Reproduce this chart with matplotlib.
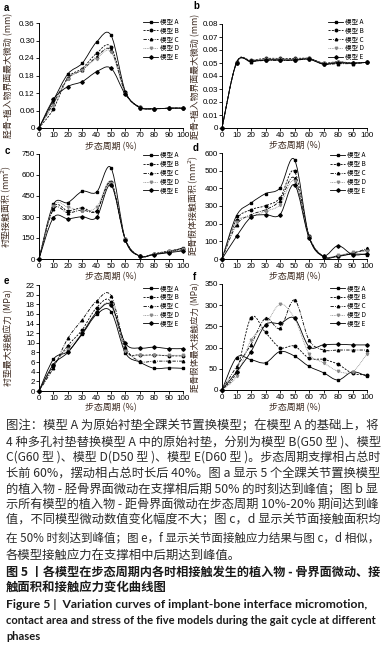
import matplotlib
matplotlib.use("Agg")
import matplotlib.pyplot as plt
from matplotlib.path import Path
from matplotlib.patches import PathPatch
from matplotlib.lines import Line2D

plt.rcParams['font.family'] = ['Noto Sans CJK SC', 'DejaVu Sans']

# Output size in pixels
W, H = 383, 648
DPI = 100

# Data
gait = [0, 10, 20, 30, 40, 50, 60, 70, 80, 90, 100]
models = ['模型 A', '模型 B', '模型 C', '模型 D', '模型 E']

# a: implant-tibia micromotion (mm)
a_A = [0, 0.095, 0.185, 0.222, 0.295, 0.318, 0.125, 0.072, 0.066, 0.068, 0.068]
a_B = [0, 0.065, 0.172, 0.204, 0.256, 0.278, 0.122, 0.071, 0.066, 0.068, 0.068]
a_C = [0, 0.085, 0.170, 0.199, 0.244, 0.267, 0.120, 0.070, 0.066, 0.068, 0.068]
a_D = [0, 0.080, 0.168, 0.200, 0.238, 0.261, 0.118, 0.070, 0.066, 0.068, 0.068]
a_E = [0, 0.098, 0.142, 0.159, 0.193, 0.205, 0.115, 0.070, 0.066, 0.068, 0.068]

# b: implant-talus micromotion (mm)
b_A = [0, 0.0500, 0.0515, 0.0525, 0.0525, 0.0525, 0.0535, 0.0495, 0.0505, 0.0500, 0.0505]
b_B = [0, 0.0505, 0.0520, 0.0535, 0.0535, 0.0535, 0.0535, 0.0500, 0.0510, 0.0500, 0.0505]
b_C = [0, 0.0500, 0.0510, 0.0520, 0.0520, 0.0520, 0.0530, 0.0490, 0.0495, 0.0495, 0.0505]
b_D = [0, 0.0502, 0.0518, 0.0530, 0.0530, 0.0530, 0.0532, 0.0497, 0.0508, 0.0502, 0.0505]
b_E = [0, 0.0503, 0.0512, 0.0522, 0.0522, 0.0522, 0.0528, 0.0492, 0.0500, 0.0498, 0.0505]

# c: liner contact area (mm2)
c_A = [0, 390, 403, 483, 478, 651, 137, 22, 35, 50, 80]
c_B = [0, 370, 345, 365, 345, 552, 140, 20, 38, 58, 75]
c_C = [0, 355, 330, 350, 345, 540, 138, 20, 35, 52, 65]
c_D = [0, 380, 370, 345, 370, 545, 140, 21, 36, 54, 70]
c_E = [0, 295, 288, 302, 298, 528, 135, 20, 32, 45, 58]

# d: talar component contact area (mm2)
d_A = [0, 245, 317, 370, 402, 562, 128, 12, 15, 28, 25]
d_B = [0, 223, 279, 302, 345, 496, 130, 14, 18, 35, 50]
d_C = [0, 194, 251, 279, 330, 458, 128, 15, 18, 32, 60]
d_D = [0, 210, 240, 270, 307, 440, 125, 16, 20, 38, 45]
d_E = [0, 128, 236, 251, 251, 420, 120, 18, 75, 25, 30]

# e: liner max contact stress (MPa)
e_A = [0, 6.6, 8.2, 11.8, 15.9, 16.5, 7.9, 6.0, 4.7, 4.8, 4.7]
e_B = [0, 5.2, 9.4, 12.7, 17.3, 18.5, 8.5, 7.5, 7.5, 7.3, 7.3]
e_C = [0, 4.8, 10.9, 14.8, 18.7, 19.8, 9.2, 6.2, 6.2, 6.2, 6.2]
e_D = [0, 5.5, 8.8, 12.0, 16.5, 17.8, 8.3, 7.4, 7.4, 7.4, 7.4]
e_E = [0, 5.5, 8.0, 12.0, 16.3, 17.8, 9.9, 8.9, 9.1, 8.8, 8.8]

# f: talar component max contact stress (axis position units, labels as printed)
f_A = [0, 107, 100, 90, 127, 112, 78, 57, 33, 60, 45]
f_B = [0, 60, 239, 190, 140, 145, 105, 101, 85, 55, 50]
f_C = [0, 77, 150, 237, 204, 297, 165, 132, 132, 132, 132]
f_D = [0, 45, 165, 215, 283, 237, 120, 90, 62, 60, 119]
f_E = [0, 60, 127, 215, 220, 237, 143, 149, 151, 149, 149]
f_tick_labels = ['0', '50', '200', '250', '300', '350']

styles = [
    dict(color='black', ls='-', marker='s'),
    dict(color='black', ls=(0, (2.5, 1.5)), marker='o'),
    dict(color='black', ls=(0, (4, 1.5, 1, 1.5)), marker='^'),
    dict(color='#8a8a8a', ls=(0, (1, 1)), marker='v'),
    dict(color='black', ls='-', marker='D'),
]
label_color = '#3d2a20'
tick_font = ['Liberation Sans', 'DejaVu Sans']

fig = plt.figure(figsize=(W / DPI, H / DPI), dpi=DPI)


def rect(l, t, r, b):
    return [l / W, 1 - b / H, (r - l) / W, (b - t) / H]


def smooth_path(xs, ys):
    # Excel-like smoothed line: Catmull-Rom converted to cubic Bezier
    pts = list(zip(xs, ys))
    n = len(pts)
    verts = [pts[0]]
    codes = [Path.MOVETO]
    for i in range(n - 1):
        p0 = pts[max(i - 1, 0)]
        p1 = pts[i]
        p2 = pts[i + 1]
        p3 = pts[min(i + 2, n - 1)]
        c1 = (p1[0] + (p2[0] - p0[0]) / 6, p1[1] + (p2[1] - p0[1]) / 6)
        c2 = (p2[0] - (p3[0] - p1[0]) / 6, p2[1] - (p3[1] - p1[1]) / 6)
        verts += [c1, c2, p2]
        codes += [Path.CURVE4] * 3
    return Path(verts, codes)


def panel(box, series, yticks, yticklabels, ylim, ylabel, ylab_x, legend_xy,
          letter, letter_xy, xlab_top, ylab_size=6.4):
    ax = fig.add_axes(rect(*box))
    for ys, st in zip(series, styles):
        ax.add_patch(PathPatch(smooth_path(gait, ys), fill=False,
                               edgecolor=st['color'], linestyle=st['ls'],
                               linewidth=0.6))
        ax.plot(gait, ys, linestyle='none', marker=st['marker'], markersize=1.8,
                color=st['color'], clip_on=False)
    ax.set_xlim(0, 100)
    ax.set_ylim(*ylim)
    ax.set_xticks(gait)
    ax.set_xticklabels([str(v) for v in gait], family=tick_font, fontsize=5.8)
    ax.set_yticks(yticks)
    ax.set_yticklabels(yticklabels, family=tick_font, fontsize=5.8)
    for s in ['top', 'right']:
        ax.spines[s].set_visible(False)
    for s in ['left', 'bottom']:
        ax.spines[s].set_linewidth(0.7)
    ax.tick_params(direction='out', length=2, width=0.6, pad=1)
    ax.set_ylabel(ylabel, fontsize=ylab_size, color=label_color)
    ax.yaxis.set_label_coords((ylab_x - box[0]) / (box[2] - box[0]), 0.5)
    ax.set_xlabel('步态周期 (%)', fontsize=6.4, color=label_color)
    ax.xaxis.set_label_coords(0.5, -(xlab_top - box[3]) / (box[3] - box[1]))
    handles = [Line2D([], [], color=st['color'], linestyle=st['ls'],
                      marker=st['marker'], markersize=1.8, linewidth=0.6)
               for st in styles]
    ax.legend(handles, models, loc='upper left',
              bbox_to_anchor=(legend_xy[0] / W, 1 - legend_xy[1] / H),
              bbox_transform=fig.transFigure, frameon=False, fontsize=4.7,
              handlelength=2.3, handletextpad=0.3, labelspacing=0.12,
              borderpad=0, borderaxespad=0)
    fig.text(letter_xy[0] / W, 1 - letter_xy[1] / H, letter, fontsize=7,
             fontweight='bold', family=tick_font, va='center', ha='left')
    return ax


panel((39, 23, 183, 128), [a_A, a_B, a_C, a_D, a_E],
      [0, 0.06, 0.12, 0.18, 0.24, 0.30, 0.36],
      ['0', '0.06', '0.12', '0.18', '0.24', '0.30', '0.36'], (0, 0.36),
      '胫骨-植入物界面最大微动 (mm)', 13, (143, 18), 'a', (4, 8), 142.5)
panel((222, 24, 367, 128), [b_A, b_B, b_C, b_D, b_E],
      [0, 0.01, 0.02, 0.03, 0.04, 0.05, 0.06, 0.07, 0.08],
      ['0', '0.01', '0.02', '0.03', '0.04', '0.05', '0.06', '0.07', '0.08'],
      (0, 0.08), '距骨-植入物界面最大微动 (mm)', 200, (328, 18), 'b', (193, 6), 141)
panel((39, 154, 183, 259), [c_A, c_B, c_C, c_D, c_E],
      [0, 150, 300, 450, 600, 750], ['0', '150', '300', '450', '600', '750'],
      (0, 750), '衬垫接触面积 (mm$^2$)', 13, (143, 151.5), 'c', (5, 151), 272.5)
panel((222, 153, 367, 259), [d_A, d_B, d_C, d_D, d_E],
      [0, 100, 200, 300, 400, 500, 600],
      ['0', '100', '200', '300', '400', '500', '600'],
      (0, 600), '距骨假体接触面积 (mm$^2$)', 200, (330, 151.5), 'd', (193, 148), 272.5)
panel((39, 285, 183, 391), [e_A, e_B, e_C, e_D, e_E],
      list(range(0, 23, 2)), [str(v) for v in range(0, 23, 2)],
      (0, 22), '衬垫最大接触应力 (MPa)', 13, (143, 284.5), 'e', (4, 281), 403.5)
panel((222, 284, 367, 390), [f_A, f_B, f_C, f_D, f_E],
      [0, 70, 140, 210, 280, 350], f_tick_labels,
      (0, 350), '距骨假体最大接触应力 (MPa)', 200, (330, 284.5), 'f', (193, 277), 403,
      ylab_size=6.1)

# Caption
note_lines = [
    '图注：模型 A 为原始衬垫全踝关节置换模型；在模型 A 的基础上，将',
    '4 种多孔衬垫替换模型 A 中的原始衬垫，分别为模型 B(G50 型 )、模型',
    'C(G60 型 )、模型 D(D50 型 )、模型 E(D60 型 )。步态周期支撑相占总时',
    '长前 60%，摆动相占总时长后 40%。图 a 显示 5 个全踝关节置换模型',
    '的植入物 - 胫骨界面微动在支撑相后期 50% 的时刻达到峰值；图 b 显',
    '示所有模型的植入物 - 距骨界面微动在步态周期 10%-20% 期间达到峰',
    '值，不同模型微动数值变化幅度不大；图 c，d 显示关节面接触面积均',
    '在 50% 时刻达到峰值；图 e，f 显示关节面接触应力结果与图 c，d 相似，',
    '各模型接触应力在支撑相中后期达到峰值。',
]
title_cn = [
    '图 5 丨各模型在步态周期内各时相接触发生的植入物 - 骨界面微动、接',
    '触面积和接触应力变化曲线图',
]
title_en = [
    'Figure 5 |  Variation curves of implant-bone interface micromotion,',
    'contact area and stress of the five models during the gait cycle at different',
    'phases',
]
note_y = [426, 441.7, 457.4, 473.1, 488.8, 504.5, 520.2, 538, 555.5]
title_cn_y = [571.7, 587.7]
title_en_y = [604, 620.5, 636.5]

renderer = fig.canvas.get_renderer()
left_px = 6


def line_text(s, y, size, right=None, **kw):
    t = fig.text(left_px / W, 1 - y / H, s, fontsize=size, va='center',
                 ha='left', **kw)
    if right is not None:
        wpx = t.get_window_extent(renderer).width
        scale = (right - left_px) / wpx
        scale = min(max(scale, 0.8), 1.1)
        t.set_fontsize(size * scale)
    return t


for i, (s, y) in enumerate(zip(note_lines, note_y)):
    line_text(s, y, 8.9, 380 if i < len(note_lines) - 1 else None, color='#2b2b2b')
for i, (s, y) in enumerate(zip(title_cn, title_cn_y)):
    line_text(s, y, 8.9, 380 if i == 0 else None, color='#1a1a1a', fontweight='bold')
en_kw = dict(color='#1a1a1a', fontweight='bold', family=['Lato', 'DejaVu Sans'])
en_first = line_text(title_en[0], title_en_y[0], 8.6, 362, **en_kw)
en_second = line_text(title_en[1], title_en_y[1], 8.6, 370, **en_kw)
line_text(title_en[2], title_en_y[2], en_second.get_fontsize(), None, **en_kw)

fig.savefig('out.png', dpi=DPI)
